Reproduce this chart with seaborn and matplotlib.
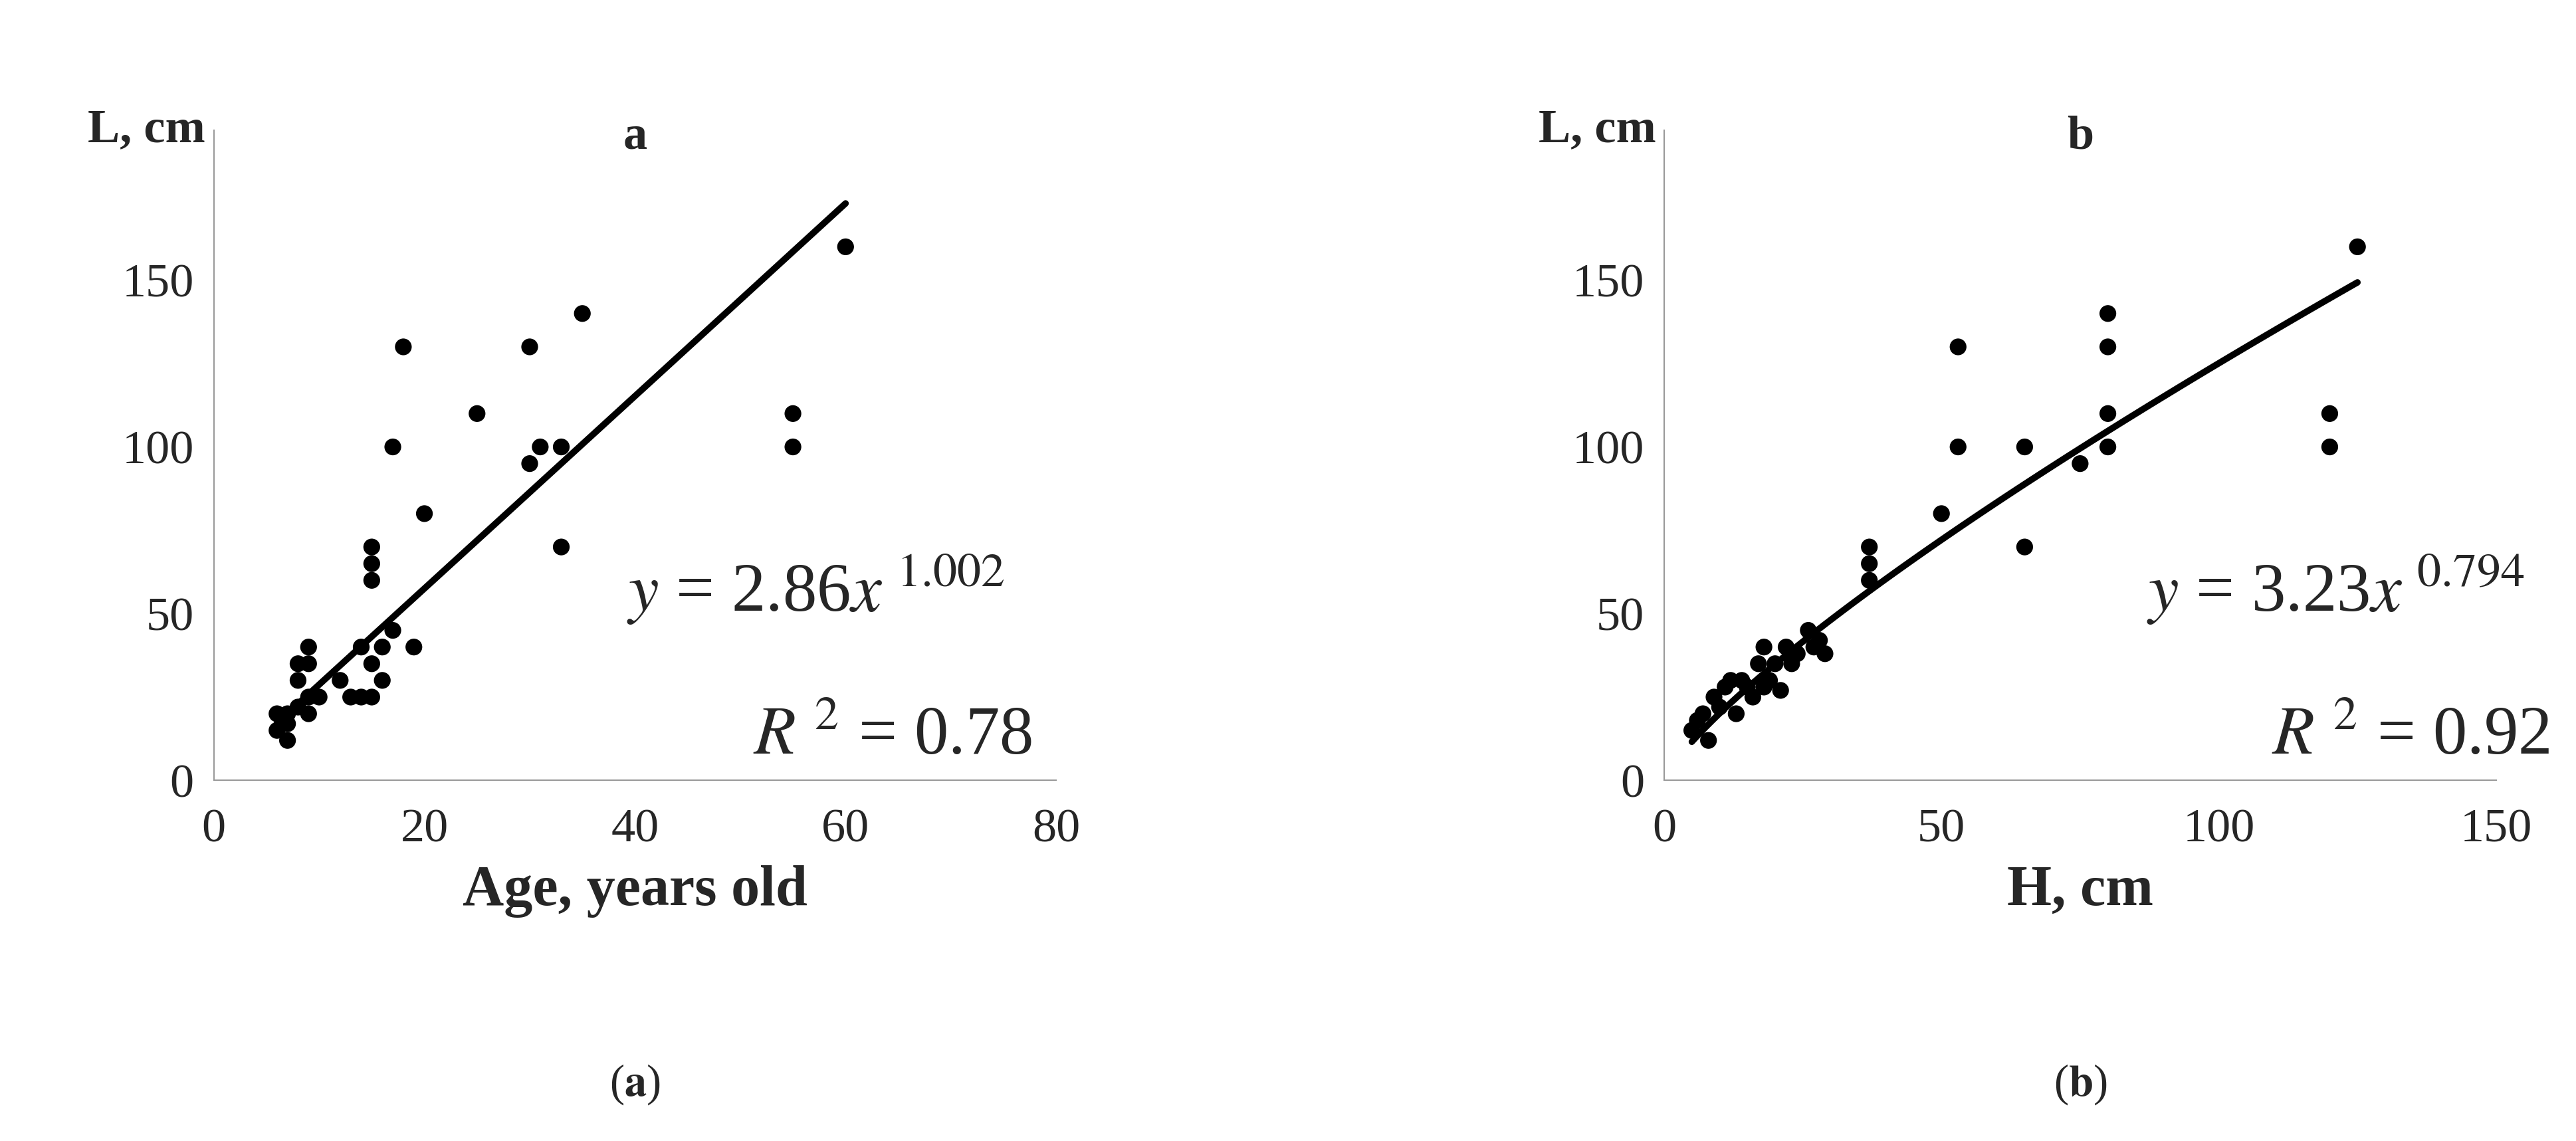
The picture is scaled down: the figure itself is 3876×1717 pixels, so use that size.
import numpy as np
import pandas as pd
import seaborn as sns
import matplotlib.pyplot as plt

sns.set_style("white")
plt.rcParams['font.family'] = ['Liberation Serif', 'DejaVu Serif']
plt.rcParams['mathtext.fontset'] = 'stix'

# panel a: age vs L
age = [6, 6, 7, 7, 7, 8, 8, 8, 9, 9, 9, 9, 10, 12, 13, 14, 14, 15, 15, 15, 15, 15,
       16, 16, 17, 17, 18, 19, 20, 25, 30, 30, 31, 33, 33, 35, 55, 55, 60]
len_a = [20, 15, 12, 17, 20, 22, 30, 35, 40, 35, 25, 20, 25, 30, 25, 40, 25, 25, 70, 65, 60, 35,
         40, 30, 45, 100, 130, 40, 80, 110, 130, 95, 100, 100, 70, 140, 110, 100, 160]

# panel b: H vs L
height = [5, 6, 7, 8, 9, 10, 11, 12, 13, 14, 15, 16, 17, 18, 18, 19, 20, 21, 22, 23, 24,
          26, 27, 28, 29, 37, 37, 37, 50, 53, 53, 65, 65, 75, 80, 80, 80, 80, 120, 120, 125]
len_b = [15, 18, 20, 12, 25, 22, 28, 30, 20, 30, 28, 25, 35, 40, 28, 30, 35, 27, 40, 35, 38,
         45, 40, 42, 38, 70, 65, 60, 80, 130, 100, 100, 70, 95, 140, 130, 110, 100, 110, 100, 160]

fit_a = (2.86, 1.002)
fit_b = (3.23, 0.794)

fig = plt.figure(figsize=(38.76, 17.17), dpi=100)
ax_a = fig.add_axes([0.083, 0.316, 0.327, 0.57])
ax_b = fig.add_axes([0.646, 0.316, 0.323, 0.57])

panels = [
    (ax_a, age, len_a, fit_a, 80, [0, 20, 40, 60, 80], "Age, years old", "a", "1.002", "0.78", "a", 0.49),
    (ax_b, height, len_b, fit_b, 150, [0, 50, 100, 150], "H, cm", "b", "0.794", "0.92", "b", 0.58),
]

for ax, x, y, fit, xmax, xticks, xlabel, title, expo, r2, cap, x0 in panels:
    df = pd.DataFrame({"x": x, "y": y})
    sns.scatterplot(data=df, x="x", y="y", ax=ax, color="black", s=330, edgecolor="none")
    xs = np.linspace(min(x), max(x), 100)
    sns.lineplot(x=xs, y=fit[0] * xs ** fit[1], ax=ax, color="black", linewidth=7)
    ax.set_xlim(0, xmax)
    ax.set_ylim(0, 195)
    ax.set_xticks(xticks)
    ax.set_yticks([0, 50, 100, 150])
    ax.tick_params(labelsize=52, length=18, width=1.5, color="#999999", direction="out")
    ax.tick_params(axis="x", pad=12)
    for side in ["top", "right"]:
        ax.spines[side].set_visible(False)
    for side in ["left", "bottom"]:
        ax.spines[side].set_color("#999999")
        ax.spines[side].set_linewidth(1.5)
    ax.set_xlabel(xlabel, fontsize=62, fontweight="bold", labelpad=15)
    ax.set_ylabel("")
    ax.text(-0.01, 1.0, "L, cm", transform=ax.transAxes, fontsize=52, fontweight="bold",
            ha="right", va="center")
    ax.set_title(title, fontsize=52, fontweight="bold", pad=-20)
    ax.text(x0, 0.26, r"$y$ = %.2f$x^{\ %s}$" % (fit[0], expo), transform=ax.transAxes,
            fontsize=74, ha="left", va="baseline")
    ax.text(x0 + 0.15, 0.04, r"$R^{\ 2}$ = %s" % r2, transform=ax.transAxes,
            fontsize=74, ha="left", va="baseline")
    cx = ax.get_position().x0 + ax.get_position().width * 0.5
    fig.text(cx, 0.04, r"($\mathbf{%s}$)" % cap, fontsize=48, ha="center")

fig.savefig("out.png", dpi=100)
